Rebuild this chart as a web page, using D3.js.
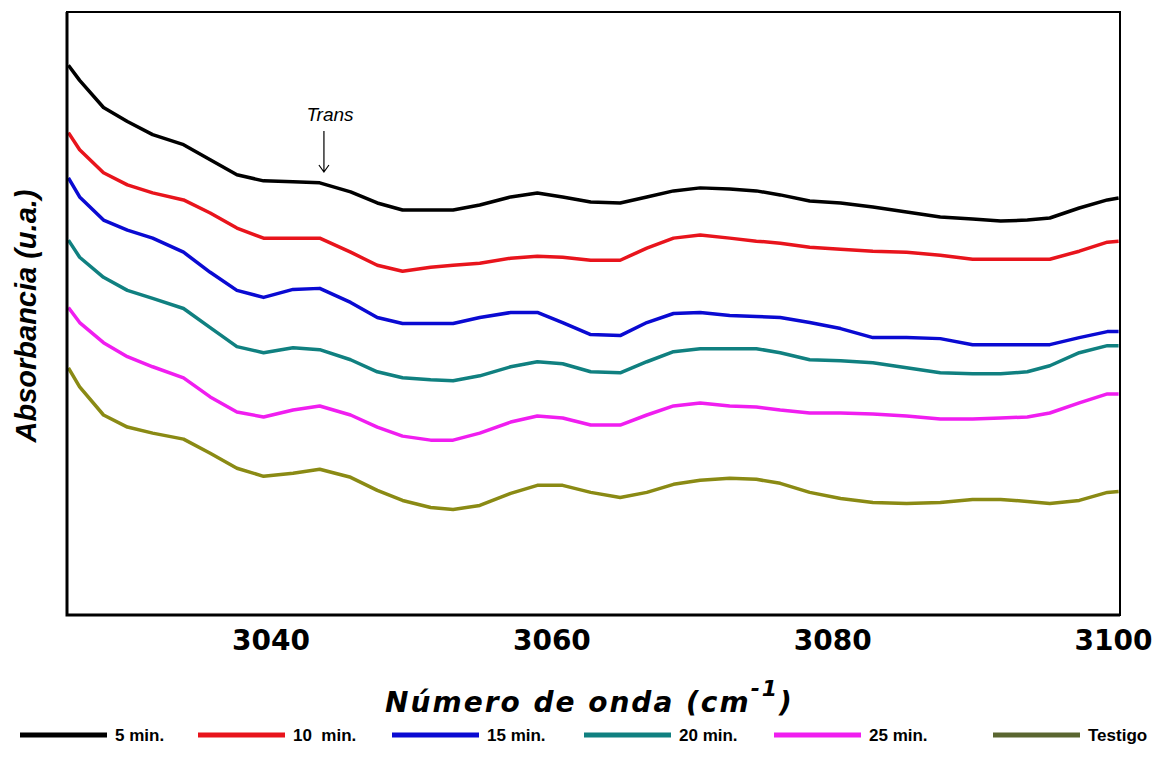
<!DOCTYPE html>
<html lang="es">
<head>
<meta charset="UTF-8">
<title>Absorbancia</title>
<script src="https://cdnjs.cloudflare.com/ajax/libs/d3/7.8.5/d3.min.js"></script>
<style>
  body { margin: 0; background: #fff; }
</style>
</head>
<body>
<svg id="chart"></svg>
<script>
// numero de onda (cm-1)
var wavenumbers = [3025.6, 3026.4, 3028.1, 3029.8, 3031.6, 3033.8, 3035.7, 3037.6, 3039.5, 3041.6,
  3043.5, 3045.7, 3047.6, 3049.4, 3051.4, 3053.0, 3054.9, 3057.1, 3059.0, 3060.8,
  3062.8, 3064.9, 3066.8, 3068.7, 3070.6, 3072.7, 3074.6, 3076.3, 3078.4, 3080.6,
  3082.9, 3085.3, 3087.7, 3090.0, 3092.0, 3093.9, 3095.5, 3097.6, 3099.6, 3100.4]

// absorbancia (u.a.), curvas desplazadas
var min5 = [54.7, 53.2, 50.5, 49.1, 47.8, 46.8, 45.3, 43.8, 43.2, 43.1,
  43.0, 42.1, 41.0, 40.3, 40.3, 40.3, 40.8, 41.6, 42.0, 41.6,
  41.1, 41.0, 41.6, 42.2, 42.5, 42.4, 42.2, 41.8, 41.2, 41.0,
  40.6, 40.1, 39.6, 39.4, 39.2, 39.3, 39.5, 40.5, 41.3, 41.5]
var min10 = [48.0, 46.3, 44.0, 42.8, 42.0, 41.3, 40.0, 38.5, 37.5, 37.5,
  37.5, 36.1, 34.8, 34.2, 34.6, 34.8, 35.0, 35.5, 35.7, 35.6,
  35.3, 35.3, 36.5, 37.5, 37.8, 37.5, 37.2, 37.0, 36.6, 36.4,
  36.2, 36.1, 35.8, 35.4, 35.4, 35.4, 35.4, 36.2, 37.1, 37.2]
var min15 = [43.5, 41.6, 39.3, 38.3, 37.5, 36.1, 34.1, 32.3, 31.6, 32.4,
  32.5, 31.1, 29.6, 29.0, 29.0, 29.0, 29.6, 30.1, 30.1, 29.1,
  27.9, 27.8, 29.1, 30.0, 30.1, 29.8, 29.7, 29.6, 29.1, 28.5,
  27.6, 27.6, 27.5, 26.9, 26.9, 26.9, 26.9, 27.6, 28.2, 28.2]
var min20 = [37.3, 35.6, 33.6, 32.3, 31.5, 30.5, 28.6, 26.7, 26.1, 26.6,
  26.4, 25.4, 24.2, 23.6, 23.4, 23.3, 23.8, 24.7, 25.2, 25.0,
  24.2, 24.1, 25.2, 26.2, 26.5, 26.5, 26.5, 26.1, 25.4, 25.3,
  25.1, 24.6, 24.1, 24.0, 24.0, 24.2, 24.8, 26.1, 26.8, 26.8]
var min25 = [30.6, 29.1, 27.1, 25.7, 24.7, 23.6, 21.7, 20.2, 19.7, 20.4,
  20.8, 19.9, 18.7, 17.8, 17.4, 17.4, 18.1, 19.2, 19.8, 19.6,
  18.9, 18.9, 19.9, 20.8, 21.1, 20.8, 20.7, 20.4, 20.1, 20.1,
  20.0, 19.8, 19.5, 19.5, 19.6, 19.7, 20.1, 21.1, 22.0, 22.0]
var testigo = [24.6, 22.7, 19.9, 18.7, 18.1, 17.5, 16.1, 14.6, 13.8, 14.1,
  14.5, 13.7, 12.4, 11.4, 10.7, 10.5, 10.9, 12.1, 12.9, 12.9,
  12.2, 11.7, 12.2, 13.0, 13.4, 13.6, 13.5, 13.1, 12.2, 11.6,
  11.2, 11.1, 11.2, 11.5, 11.5, 11.3, 11.1, 11.4, 12.2, 12.3]

var seriesNames = ["5 min.", "10  min.", "15 min.", "20 min.", "25 min.", "Testigo"]
var seriesValues = [min5, min10, min15, min20, min25, testigo]
var xTicks = [3040, 3060, 3080, 3100]

var colors = ["#000000", "#e8141c", "#0a0ad2", "#108080", "#f01ef0", "#8a8a14"]
var legendColors = ["#000000", "#e8141c", "#0a0ad2", "#108080", "#f01ef0", "#5a6630"]
var legendTextX = [115, 293, 487, 679, 869, 1088]

var W = 1157, H = 759
var mL = 67, mR = 1120, mT = 12, mB = 615

var svg = d3.select("#chart").attr("width", W).attr("height", H)
  .style("font-family", "'Liberation Sans', Arial, sans-serif")

var x = d3.scaleLinear().domain([3025.5, 3100.5]).range([mL, mR])
var y = d3.scaleLinear().domain([0, 60]).range([mB, mT])

var line = d3.line()
  .x(function(d, i) { return x(wavenumbers[i]) })
  .y(function(d) { return y(d) })

svg.selectAll("path.serie")
  .data(seriesValues).enter()
  .append("path")
  .attr("class", "serie")
  .attr("d", line)
  .attr("fill", "none")
  .attr("stroke", function(d, i) { return colors[i] })
  .attr("stroke-width", 3.5)
  .attr("stroke-linejoin", "round")

// marco
svg.append("rect")
  .attr("x", mL).attr("y", mT)
  .attr("width", mR - mL).attr("height", mB - mT)
  .attr("fill", "none").attr("stroke", "#000").attr("stroke-width", 2)
svg.append("path")
  .attr("d", "M" + mL + "," + mT + "V" + mB + "H" + mR)
  .attr("fill", "none").attr("stroke", "#000").attr("stroke-width", 3)

// eje x
var ax = svg.append("g")
  .attr("transform", "translate(0," + mB + ")")
  .call(d3.axisBottom(x).tickValues(xTicks).tickSize(0).tickPadding(15).tickFormat(d3.format("d")))
ax.select(".domain").remove()
ax.selectAll("text")
  .attr("font-family", "'DejaVu Sans', sans-serif")
  .attr("font-weight", "bold")
  .attr("font-size", 28)
  .attr("fill", "#000")

// titulos
var xt = svg.append("text")
  .attr("x", (mL + mR) / 2 - 4).attr("y", 712)
  .attr("text-anchor", "middle")
  .attr("font-family", "'DejaVu Sans', sans-serif")
  .attr("font-weight", "bold").attr("font-style", "italic")
  .attr("font-size", 28).attr("letter-spacing", 2)
xt.append("tspan").text("Número de onda (cm")
xt.append("tspan").attr("dy", -16).attr("font-size", 22).text("-1")
xt.append("tspan").attr("dy", 16).text(")")

svg.append("text")
  .attr("transform", "translate(36,316) rotate(-90)")
  .attr("text-anchor", "middle")
  .attr("font-weight", "bold").attr("font-style", "italic")
  .attr("font-size", 29)
  .text("Absorbancia (u.a.)")

// anotacion Trans
var ta = x(3043.8)
svg.append("text")
  .attr("x", 330).attr("y", 121)
  .attr("text-anchor", "middle")
  .attr("font-style", "italic").attr("font-size", 19)
  .text("Trans")
svg.append("path")
  .attr("d", "M" + ta + ",131V172M" + (ta - 5) + ",165L" + ta + ",172L" + (ta + 5) + ",165")
  .attr("fill", "none").attr("stroke", "#000").attr("stroke-width", 1.2)

// leyenda
var lg = svg.selectAll("g.leg")
  .data(seriesNames).enter()
  .append("g").attr("class", "leg")
lg.append("line")
  .attr("x1", function(d, i) { return legendTextX[i] - 95 })
  .attr("x2", function(d, i) { return legendTextX[i] - 8 })
  .attr("y1", 735).attr("y2", 735)
  .attr("stroke", function(d, i) { return legendColors[i] })
  .attr("stroke-width", 5)
lg.append("text")
  .attr("x", function(d, i) { return legendTextX[i] })
  .attr("y", 741)
  .attr("font-weight", "bold").attr("font-size", 17)
  .style("white-space", "pre")
  .text(function(d) { return d })
</script>
</body>
</html>
